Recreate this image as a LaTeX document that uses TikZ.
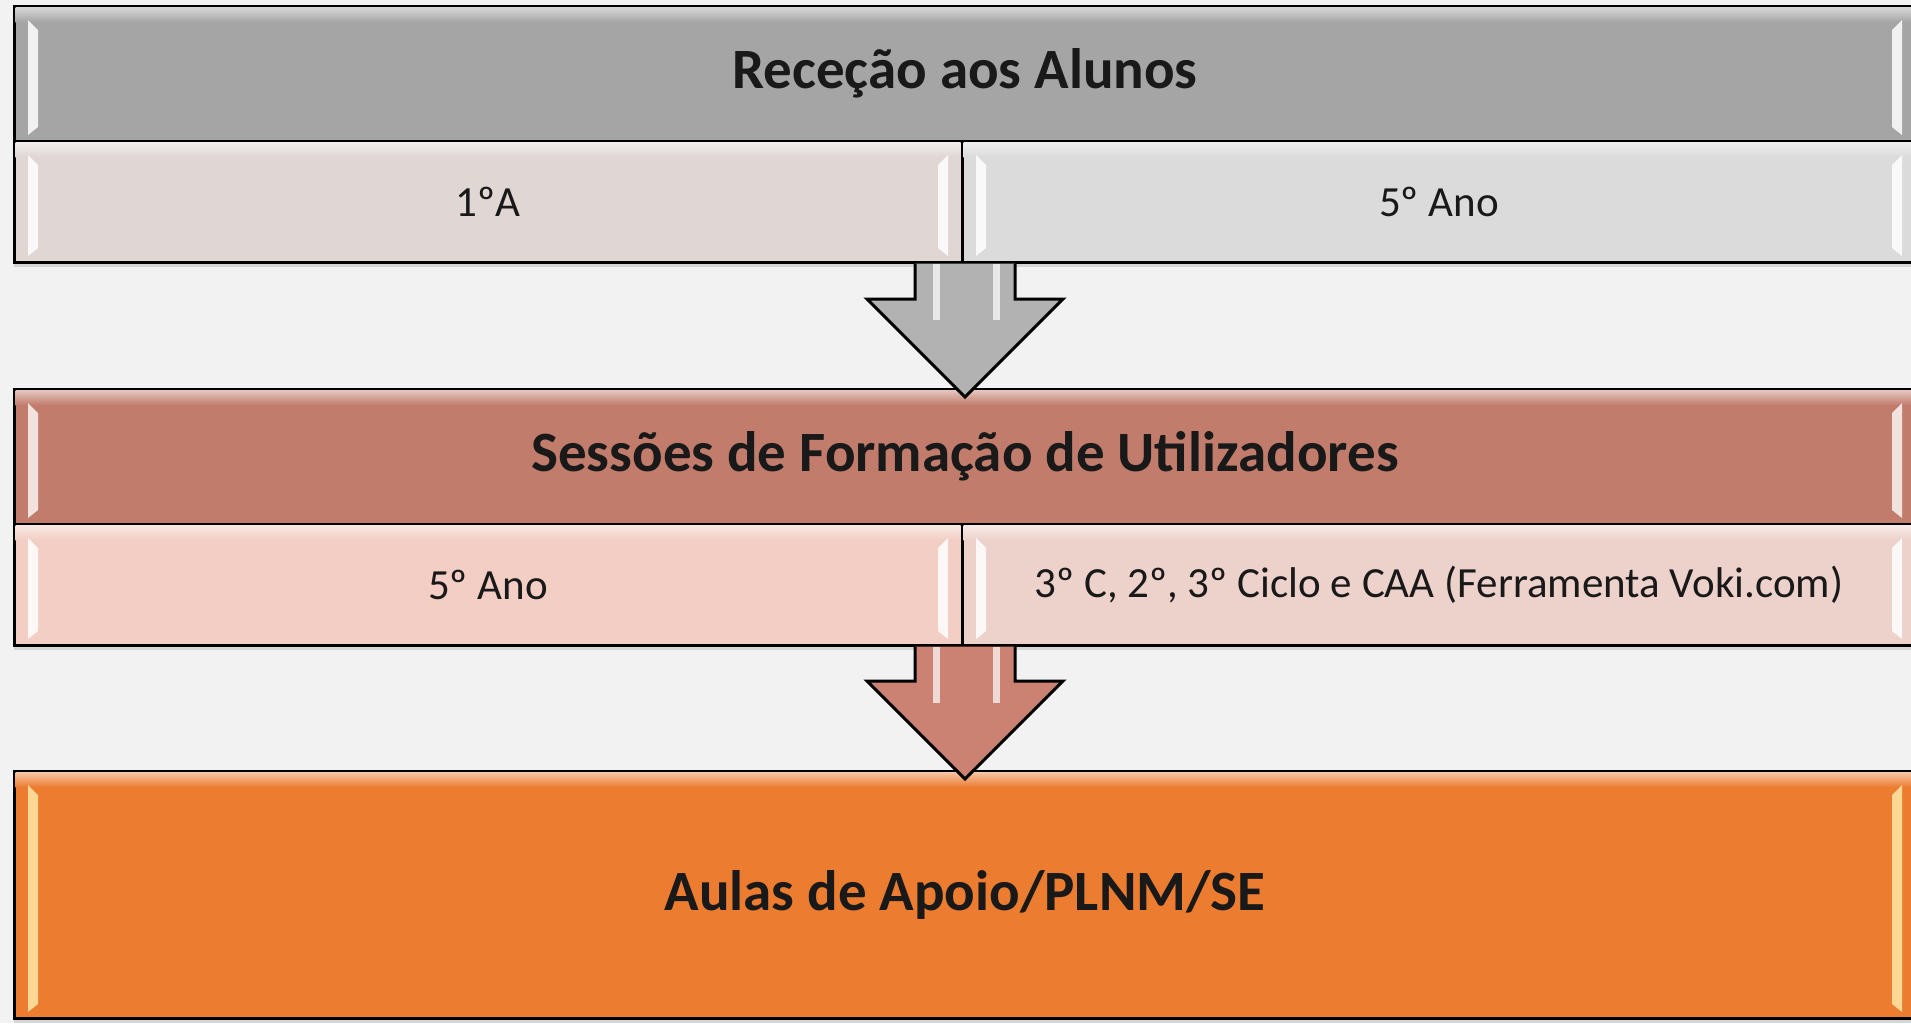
\documentclass[tikz,border=0pt]{standalone}
\usepackage{fontspec}
\setmainfont{Carlito}
\usetikzlibrary{positioning,calc,shadows}

\definecolor{backgray}{HTML}{F2F2F2}
\definecolor{headgray}{HTML}{A5A5A5}
\definecolor{cellrose}{HTML}{E0D6D4}
\definecolor{cellgray}{HTML}{DBDBDB}
\definecolor{headbrick}{HTML}{C27C6C}
\definecolor{cellsalmon}{HTML}{F2CEC4}
\definecolor{cellpink}{HTML}{EDD1CB}
\definecolor{orangebox}{HTML}{EC7C30}
\definecolor{arrowgray}{HTML}{B2B2B2}
\definecolor{arrowbrick}{HTML}{CB8272}
\definecolor{shineyellow}{HTML}{FFE9A6}

% glossy edges of a cell: #1 node, #2 shine colour, #3 fill colour
\newcommand{\bevel}[3]{%
  \shade[top color=white!55!#3,bottom color=#3] ($(#1.north west)+(0.75,0.75)$) rectangle ($(#1.north east)+(-0.75,8)$);
  \fill[#2,opacity=.85] ($(#1.north west)+(7,7)$) -- ($(#1.north west)+(12,12)$) -- ($(#1.south west)+(12,-7)$) -- ($(#1.south west)+(7,-3)$) -- cycle;
  \fill[#2,opacity=.85] ($(#1.north east)+(-7,7)$) -- ($(#1.north east)+(-12,12)$) -- ($(#1.south east)+(-12,-7)$) -- ($(#1.south east)+(-7,-3)$) -- cycle;}

% block arrow: #1 from, #2 to (tip), #3 fill colour
\newcommand{\flowarrow}[3]{%
  \draw[line width=1.5pt,line join=miter,fill=#3]
    ($(#1)+(-25,0.75)$) -- ($(#2)+(-25,-45)$) -- ($(#2)+(-49,-45)$) -- ($(#2)+(0,4)$)
    -- ($(#2)+(49,-45)$) -- ($(#2)+(25,-45)$) -- ($(#1)+(25,0.75)$);
  \fill[white,opacity=.7] ($(#1)+(-16,1)$) rectangle ($(#1)+(-12.5,29)$);
  \fill[white,opacity=.7] ($(#1)+(14,1)$) rectangle ($(#1)+(17.5,29)$);}

\begin{document}
\begin{tikzpicture}[x=1pt,y=-1pt,node distance=0pt]
\tikzset{box/.style={draw=black,line width=1.5pt,inner sep=0pt,outer sep=0pt,anchor=north west,text=black!90}}
\tikzset{headbox/.style={box,minimum width=951pt,minimum height=67.5pt,font=\fontsize{28.5}{33}\selectfont\bfseries}}
\tikzset{cellbox/.style={box,minimum height=60.5pt,font=\fontsize{21.5}{25}\selectfont}}
\tikzset{leftcell/.style={cellbox,minimum width=474pt}}
\tikzset{rightcell/.style={cellbox,minimum width=477pt}}
\tikzset{shadowed/.style={drop shadow={shadow xshift=0pt,shadow yshift=-2.5pt,opacity=.25}}}

\useasboundingbox[fill=backgray] (0,0) rectangle (955.5,511.5);

% Rececao
\node[headbox,fill=headgray,shadowed] (R) at (7,3) {Receção aos Alunos};
\node[leftcell,fill=cellrose,shadowed,below right=of R.south west] (R1) {1ºA};
\node[rightcell,fill=cellgray,shadowed,right=of R1] (R2) {5º Ano};

% Sessoes
\node[headbox,fill=headbrick,shadowed,below right=63.5pt and 0pt of R1.south west] (S) {Sessões de Formação de Utilizadores};
\node[leftcell,fill=cellsalmon,shadowed,below right=of S.south west] (S1) {5º Ano};
\node[rightcell,fill=cellpink,shadowed,right=of S1] (S2) {3º C, 2º, 3º Ciclo e CAA (Ferramenta Voki.com)};

% Aulas
\node[headbox,fill=orangebox,shadowed,minimum height=123.5pt,below right=63pt and 0pt of S1.south west] (A) {Aulas de Apoio/PLNM/SE};

\foreach \n/\s/\c in {R/white/headgray,R1/white/cellrose,R2/white/cellgray,
                      S/white!80!cellpink/headbrick,S1/white/cellsalmon,S2/white/cellpink,
                      A/shineyellow/orangebox}
  {\bevel{\n}{\s}{\c}}

\coordinate (Rb) at (R.south |- R1.south);
\coordinate (Sb) at (S.south |- S1.south);
\flowarrow{Rb}{S.north}{arrowgray}
\flowarrow{Sb}{A.north}{arrowbrick}
\end{tikzpicture}
\end{document}
